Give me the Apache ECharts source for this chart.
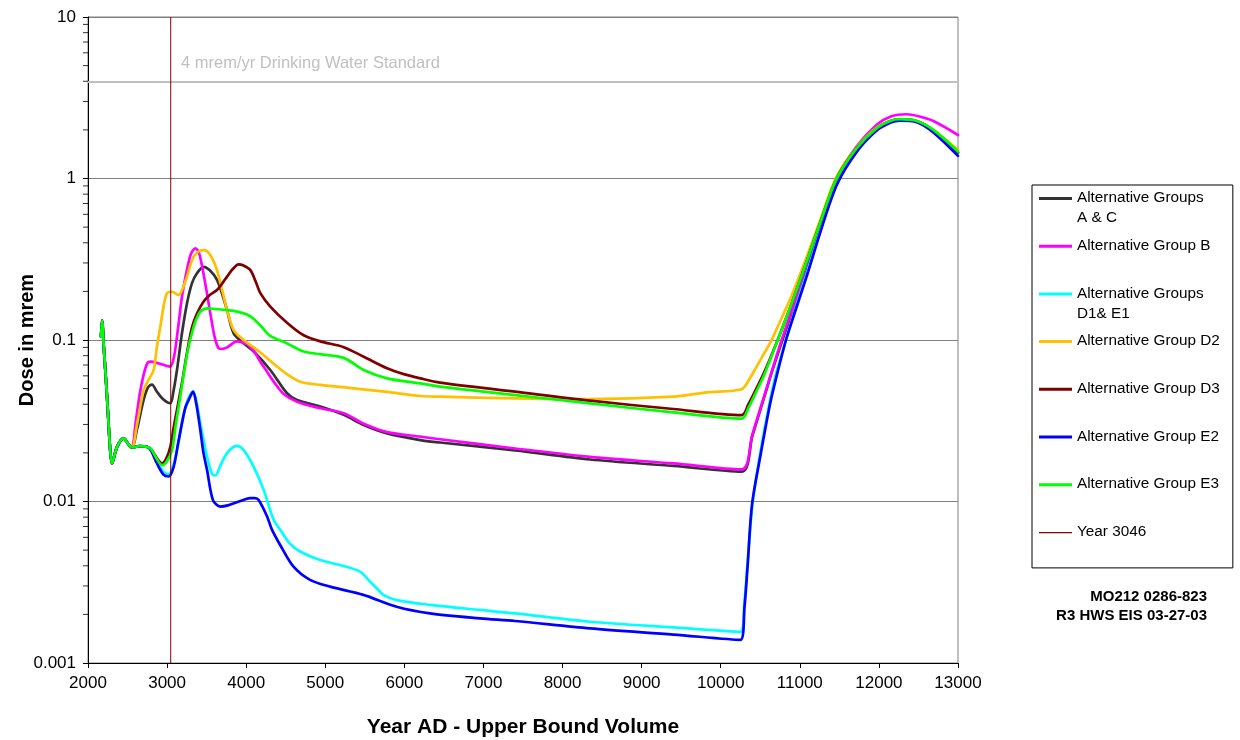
<!DOCTYPE html>
<html><head><meta charset="utf-8">
<script src="https://cdn.jsdelivr.net/npm/echarts@6/dist/echarts.min.js"></script>
<style>html,body{margin:0;padding:0;background:#fff}#c{width:1240px;height:740px}</style>
</head><body><div id="c"></div>
<script>
// ---------- DATA ----------
const seriesNames = ['Alternative Groups A & C','Alternative Group B','Alternative Groups D1& E1','Alternative Group D2','Alternative Group D3','Alternative Group E2','Alternative Group E3'];
const markerName = 'Year 3046';
const legendLabels = ['Alternative Groups\nA & C','Alternative Group B\n ','Alternative Groups\nD1& E1','Alternative Group D2\n ','Alternative Group D3\n ','Alternative Group E2\n ','Alternative Group E3\n ','Year 3046\n '];

// common early part (all groups identical)
const commonYears = [2165, 2178, 2200, 2240, 2280, 2303, 2367, 2451, 2514, 2556];
const commonDose  = [0.105, 0.132, 0.09, 0.045, 0.021, 0.0172, 0.0218, 0.0246, 0.0225, 0.0216];

const acYears = [2620, 2700, 2760, 2809, 2870, 2950, 3041, 3080, 3125, 3188, 3252, 3315, 3378, 3462, 3540, 3631, 3700, 3758, 3842, 3968, 4095, 4305, 4516, 4643, 4937, 5233, 5486, 5781, 6202, 6451, 7400, 8347, 9400, 10265, 10400, 10550, 10650, 10780, 10950, 11100, 11250, 11466, 11719, 11972, 12150, 12267, 12478, 12688, 13000];
const acDose  = [0.028, 0.042, 0.051, 0.053, 0.048, 0.043, 0.0406, 0.048, 0.0652, 0.11, 0.169, 0.225, 0.259, 0.284, 0.27, 0.236, 0.19, 0.153, 0.11, 0.0953, 0.0848, 0.0652, 0.0468, 0.0425, 0.0387, 0.0344, 0.0298, 0.0264, 0.024, 0.0232, 0.0207, 0.0182, 0.0166, 0.0153, 0.0255, 0.0443, 0.0641, 0.1, 0.175, 0.3, 0.5, 0.97, 1.52, 2.03, 2.27, 2.32, 2.26, 1.98, 1.45];

const bYears = [2600, 2650, 2700, 2750, 2788, 2900, 3000, 3041, 3090, 3140, 3188, 3250, 3300, 3357, 3400, 3440, 3500, 3547, 3600, 3652, 3700, 3758, 3884, 4010, 4100, 4179, 4260, 4348, 4474, 4643, 4937, 5233, 5486, 5781, 6202, 6451, 7400, 8347, 9400, 10265, 10400, 10550, 10650, 10770, 10950, 11100, 11250, 11466, 11719, 11972, 12150, 12351, 12500, 12688, 13000];
const bDose  = [0.03, 0.045, 0.06, 0.072, 0.0734, 0.0715, 0.069, 0.0685, 0.08, 0.12, 0.185, 0.27, 0.34, 0.37, 0.35, 0.29, 0.2, 0.146, 0.105, 0.0888, 0.088, 0.09, 0.0981, 0.094, 0.085, 0.0734, 0.064, 0.0552, 0.0463, 0.0415, 0.0378, 0.0352, 0.0303, 0.0269, 0.0252, 0.0243, 0.0213, 0.0189, 0.0172, 0.0158, 0.026, 0.045, 0.065, 0.1, 0.18, 0.31, 0.51, 1.0, 1.58, 2.15, 2.42, 2.5, 2.43, 2.27, 1.86];

const d1e1Years = [2650, 2746, 2800, 2872, 2957, 3020, 3083, 3150, 3188, 3230, 3273, 3328, 3370, 3420, 3505, 3568, 3610, 3680, 3760, 3840, 3884, 3968, 4095, 4221, 4347, 4428, 4550, 4681, 4934, 5186, 5439, 5566, 5650, 5734, 5903, 6324, 6956, 7400, 8347, 9400, 10250, 10300, 10345, 10400, 10500, 10623, 10700, 10825, 10950, 11100, 11250, 11466, 11719, 11972, 12150, 12267, 12478, 12688, 13000];
const d1e1Dose  = [0.022, 0.0218, 0.021, 0.0178, 0.0152, 0.0148, 0.017, 0.024, 0.031, 0.038, 0.044, 0.048, 0.042, 0.0305, 0.019, 0.0148, 0.0145, 0.017, 0.02, 0.0218, 0.0221, 0.0208, 0.0164, 0.0118, 0.0077, 0.0067, 0.0055, 0.0049, 0.00434, 0.00404, 0.00368, 0.00319, 0.0029, 0.00264, 0.00245, 0.00229, 0.00213, 0.00203, 0.0018, 0.00166, 0.00156, 0.0024, 0.0045, 0.0095, 0.02, 0.042, 0.062, 0.1, 0.16, 0.27, 0.46, 0.93, 1.48, 2.0, 2.23, 2.3, 2.25, 1.95, 1.42];

const d2Years = [2620, 2704, 2760, 2830, 2870, 2914, 2960, 2999, 3062, 3147, 3200, 3252, 3336, 3441, 3505, 3570, 3631, 3700, 3758, 3842, 3968, 4179, 4390, 4516, 4685, 4937, 5359, 5781, 6202, 6451, 7400, 8347, 9400, 9822, 10265, 10350, 10450, 10550, 10623, 10700, 10900, 11100, 11250, 11466, 11719, 11972, 12150, 12267, 12478, 12688, 13000];
const d2Dose  = [0.03, 0.049, 0.056, 0.0652, 0.09, 0.121, 0.165, 0.195, 0.199, 0.19, 0.21, 0.247, 0.328, 0.36, 0.355, 0.32, 0.271, 0.2, 0.153, 0.115, 0.1, 0.0837, 0.0685, 0.0615, 0.0552, 0.0527, 0.0502, 0.0477, 0.045, 0.0446, 0.0435, 0.0431, 0.0446, 0.0474, 0.0496, 0.056, 0.068, 0.083, 0.0955, 0.115, 0.19, 0.34, 0.54, 1.03, 1.56, 2.07, 2.28, 2.33, 2.27, 2.0, 1.5];

const d3Years = [2650, 2746, 2800, 2872, 2936, 2990, 3041, 3085, 3125, 3190, 3252, 3315, 3378, 3462, 3540, 3631, 3700, 3758, 3830, 3905, 3960, 4053, 4120, 4179, 4305, 4516, 4727, 4937, 5233, 5486, 5781, 5992, 6202, 6451, 7400, 8347, 9400, 10265, 10350, 10450, 10550, 10720, 10900, 11100, 11250, 11466, 11719, 11972, 12150, 12267, 12478, 12688, 13000];
const d3Dose  = [0.022, 0.0218, 0.021, 0.0185, 0.0172, 0.0185, 0.0218, 0.029, 0.0369, 0.055, 0.0837, 0.12, 0.146, 0.173, 0.19, 0.204, 0.225, 0.247, 0.275, 0.294, 0.29, 0.271, 0.23, 0.195, 0.161, 0.128, 0.107, 0.0981, 0.0903, 0.0788, 0.0668, 0.0615, 0.0579, 0.0545, 0.0479, 0.0421, 0.0374, 0.0343, 0.04, 0.05, 0.063, 0.1, 0.17, 0.32, 0.52, 1.0, 1.54, 2.04, 2.27, 2.32, 2.26, 1.98, 1.45];

const e2Years = [2650, 2746, 2800, 2872, 2957, 3020, 3083, 3140, 3188, 3230, 3273, 3328, 3370, 3420, 3460, 3505, 3580, 3673, 3780, 3884, 3980, 4053, 4110, 4158, 4263, 4326, 4428, 4596, 4807, 5060, 5481, 5903, 6324, 6956, 7400, 8347, 9400, 10250, 10300, 10340, 10395, 10500, 10623, 10700, 10825, 10950, 11100, 11250, 11466, 11719, 11972, 12150, 12267, 12478, 12688, 13000];
const e2Dose  = [0.022, 0.0218, 0.0205, 0.0172, 0.0146, 0.0143, 0.0164, 0.023, 0.0305, 0.038, 0.0425, 0.0479, 0.04, 0.0277, 0.02, 0.0157, 0.0102, 0.0093, 0.0095, 0.0099, 0.0103, 0.0105, 0.0105, 0.0102, 0.0081, 0.0067, 0.0054, 0.00396, 0.00327, 0.00297, 0.00264, 0.00223, 0.00203, 0.00189, 0.00182, 0.00164, 0.0015, 0.00139, 0.0022, 0.004, 0.0095, 0.019, 0.04, 0.058, 0.1, 0.155, 0.26, 0.45, 0.91, 1.46, 1.98, 2.22, 2.28, 2.23, 1.93, 1.38];

const e3Years = [2650, 2746, 2800, 2872, 2936, 2990, 3062, 3110, 3167, 3252, 3336, 3400, 3441, 3505, 3650, 3758, 3884, 4010, 4095, 4200, 4305, 4516, 4727, 4937, 5233, 5486, 5781, 6202, 6451, 7400, 8347, 9400, 10265, 10350, 10450, 10550, 10720, 10900, 11100, 11250, 11466, 11719, 11972, 12150, 12267, 12478, 12688, 13000];
const e3Dose  = [0.022, 0.0218, 0.021, 0.0183, 0.0168, 0.0175, 0.0208, 0.03, 0.0446, 0.0817, 0.121, 0.145, 0.153, 0.157, 0.155, 0.153, 0.15, 0.144, 0.135, 0.12, 0.106, 0.0953, 0.0848, 0.0817, 0.0775, 0.0652, 0.0579, 0.0539, 0.0514, 0.0456, 0.0405, 0.0356, 0.0326, 0.038, 0.048, 0.061, 0.1, 0.17, 0.32, 0.52, 1.0, 1.54, 2.05, 2.28, 2.33, 2.27, 2.0, 1.47];

const markerYears = [3046, 3046];
const markerDose  = [0.001, 10];
const standardDose = 4;
const standardLabel = '4 mrem/yr Drinking Water Standard';

const xTicks = {min: 2000, max: 13000, step: 1000};
const yTickLabels = ['0.001', '0.01', '0.1', '1', '10'];
const yMinorTickValues = [0.002,0.003,0.004,0.005,0.006,0.007,0.008,0.009,0.02,0.03,0.04,0.05,0.06,0.07,0.08,0.09,0.2,0.3,0.4,0.5,0.6,0.7,0.8,0.9,2,3,4,5,6,7,8,9];
const footerLines = ['MO212 0286-823', 'R3 HWS EIS 03-27-03'];

// ---------- BUILD ----------
const colors = ['#333333', '#ff00ff', '#00ffff', '#ffc000', '#800000', '#0000ff', '#00ff00'];
const yearsList = [acYears, bYears, d1e1Years, d2Years, d3Years, e2Years, e3Years];
const doseList  = [acDose, bDose, d1e1Dose, d2Dose, d3Dose, e2Dose, e3Dose];
const zip = (xs, ys) => xs.map((x, i) => [x, ys[i]]);
const FONT = 'Liberation Sans, Arial, sans-serif';

const series = seriesNames.map((name, i) => ({
  name, type: 'line', showSymbol: false, symbol: 'none',
  smooth: 0.3,
  data: zip(commonYears, commonDose).concat(zip(yearsList[i], doseList[i])),
  lineStyle: {width: 2.7, color: colors[i], join: 'round', cap: 'round'},
  itemStyle: {color: colors[i]},
  z: 3 + i,
  silent: true
}));

// drinking water standard line
series.unshift({
  name: 'standard', type: 'line', data: [], silent: true, z: 2,
  markLine: {
    silent: true, symbol: 'none', animation: false,
    data: [{yAxis: standardDose}],
    lineStyle: {color: '#c0c0c0', width: 2, type: 'solid'},
    label: {show: true, formatter: standardLabel, position: 'insideStartTop', distance: [93, 9],
            color: '#c0c0c0', fontSize: 16.5, fontFamily: FONT}
  }
});

// minor tick marks on the log axis
series.push({
  name: 'minorTicks', type: 'scatter', silent: true, clip: false, z: 20,
  data: yMinorTickValues.map(v => [xTicks.min, v]),
  symbol: 'rect', symbolSize: [5, 1], symbolOffset: [-2.5, 0],
  itemStyle: {color: '#000'}
});

// year marker
series.push({
  name: markerName, type: 'line', showSymbol: false, symbol: 'none', silent: true,
  data: zip(markerYears, markerDose),
  lineStyle: {width: 1, color: '#800000'}, itemStyle: {color: '#800000'}, z: 15
});

const thickIcon = 'path://M0,0L0.01,0L0,0ZM0,9L33,9L33,12L0,12ZM0,40L0.01,40L0,40Z';
const thinIcon  = 'path://M0,0L0.01,0L0,0ZM0,10L33,10L33,11.3L0,11.3ZM0,40L0.01,40L0,40Z';
const legendNames = seriesNames.concat([markerName]);

const chart = echarts.init(document.getElementById('c'), null, {renderer: 'canvas'});
chart.setOption({
  animation: false,
  backgroundColor: '#fff',
  textStyle: {fontFamily: FONT},
  grid: {left: 88, top: 17, right: 282, bottom: 77, show: true, borderColor: '#808080', borderWidth: 1,
         backgroundColor: 'transparent', containLabel: false, outerBoundsMode: 'none'},
  xAxis: {
    type: 'value', min: xTicks.min, max: xTicks.max, interval: xTicks.step,
    axisLine: {show: true, onZero: false, lineStyle: {color: '#000', width: 1}},
    axisTick: {show: true, inside: false, length: 5, lineStyle: {color: '#000'}},
    axisLabel: {fontSize: 17, color: '#000', margin: 12, fontFamily: FONT, formatter: v => String(v)},
    splitLine: {show: false},
    name: 'Year AD - Upper Bound Volume', nameLocation: 'middle', nameGap: 54, nameMoveOverlap: false,
    nameTextStyle: {fontSize: 21, fontWeight: 'bold', color: '#000', fontFamily: FONT}
  },
  yAxis: {
    type: 'log', logBase: 10, min: 0.001, max: 10,
    axisLine: {show: true, lineStyle: {color: '#000', width: 1}},
    axisTick: {show: true, inside: false, length: 5, lineStyle: {color: '#000'}},
    axisLabel: {fontSize: 17, color: '#000', margin: 12, fontFamily: FONT,
      formatter: v => yTickLabels[Math.round(Math.log10(v)) + 3]},
    splitLine: {show: true, lineStyle: {color: '#808080', width: 1}},
    minorTick: {show: false},
    name: 'Dose in mrem', nameLocation: 'middle', nameGap: 51, nameRotate: 90, nameMoveOverlap: false,
    nameTextStyle: {fontSize: 20, fontWeight: 'bold', color: '#000', fontFamily: FONT}
  },
  legend: {
    orient: 'vertical', left: 1032, top: 185,
    backgroundColor: '#fff', borderColor: '#000', borderWidth: 1,
    padding: [3, 13, 6, 7],
    itemWidth: 33, itemHeight: 40, itemGap: 7.7,
    selectedMode: false,
    textStyle: {fontSize: 15.3, color: '#000', lineHeight: 20, fontFamily: FONT},
    formatter: name => legendLabels[legendNames.indexOf(name)],
    data: legendNames.map((n, i) => ({name: n, icon: i < seriesNames.length ? thickIcon : thinIcon}))
  },
  graphic: [{
    type: 'text', x: 1207, y: 587.5, silent: true,
    style: {text: footerLines.join('\n'), textAlign: 'right', textVerticalAlign: 'top',
            font: 'bold 15px ' + FONT, lineHeight: 19, fill: '#000'}
  }],
  series
});
</script>
</body></html>
